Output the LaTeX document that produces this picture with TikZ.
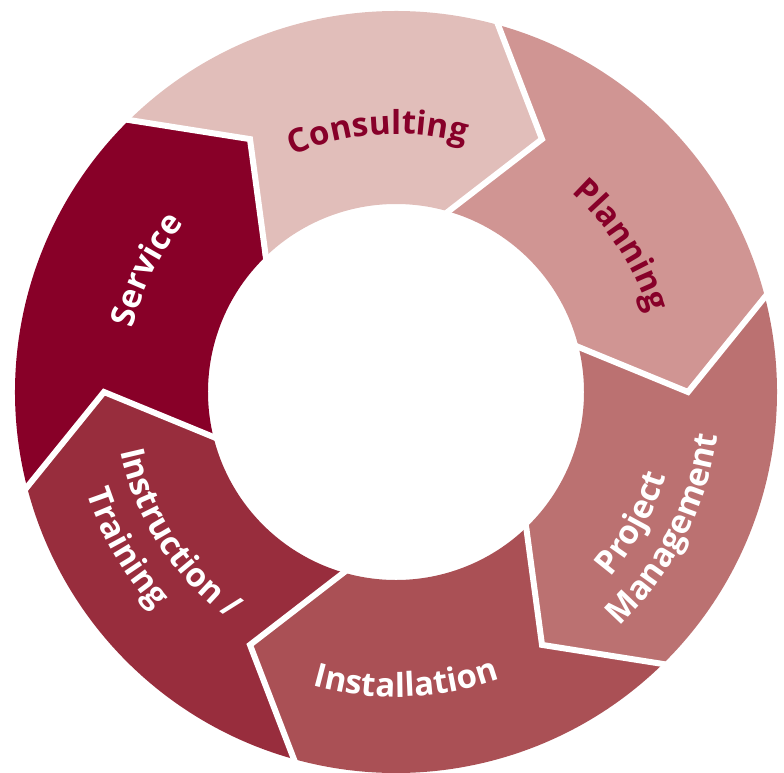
\documentclass[tikz,border=0pt]{standalone}
\usepackage{fontspec}
\setmainfont{Open Sans}
\usetikzlibrary{decorations.text}
\definecolor{consultcol}{HTML}{E1BEBA}
\definecolor{plancol}{HTML}{D09593}
\definecolor{projcol}{HTML}{BB7171}
\definecolor{installcol}{HTML}{AA5055}
\definecolor{instructcol}{HTML}{982D3D}
\definecolor{servicecol}{HTML}{880028}
\definecolor{darktext}{HTML}{870029}
\newcommand\phasefont{\fontsize{33}{36}\selectfont\bfseries}
\begin{document}
\begin{tikzpicture}[x=1pt, y=1pt,
    gap/.style={white, line width=6pt, line join=miter},
    phase/.style={decorate, decoration={text along path, text align=center, text={|\phasefont|#1}}},
    darkphase/.style={phase={#1}, decoration={text color=darktext}},
    lightphase/.style={phase={#1}, decoration={text color=white}}]
\useasboundingbox (-396,-380) rectangle (388,392);
% ring segments, outer radius 381, inner 188, chevron tip at 292
\fill[consultcol] (135:381) arc[start angle=135, end angle=75, radius=381] -- (60:292) -- (75:188) arc[start angle=75, end angle=135, radius=188] -- (120:292) -- cycle;
\fill[plancol] (75:381) arc[start angle=75, end angle=15, radius=381] -- (0:292) -- (15:188) arc[start angle=15, end angle=75, radius=188] -- (60:292) -- cycle;
\fill[projcol] (15:381) arc[start angle=15, end angle=-45, radius=381] -- (-60:292) -- (-45:188) arc[start angle=-45, end angle=15, radius=188] -- (0:292) -- cycle;
\fill[installcol] (-45:381) arc[start angle=-45, end angle=-105, radius=381] -- (-120:292) -- (-105:188) arc[start angle=-105, end angle=-45, radius=188] -- (-60:292) -- cycle;
\fill[instructcol] (-105:381) arc[start angle=-105, end angle=-165, radius=381] -- (-180:292) -- (-165:188) arc[start angle=-165, end angle=-105, radius=188] -- (-120:292) -- cycle;
\fill[servicecol] (-165:381) arc[start angle=-165, end angle=-225, radius=381] -- (-240:292) -- (-225:188) arc[start angle=-225, end angle=-165, radius=188] -- (-180:292) -- cycle;

% white gaps between the segments
\draw[gap] (75:183) -- (60:292) -- (75:386);
\draw[gap] (15:183) -- (0:292) -- (15:386);
\draw[gap] (-45:183) -- (-60:292) -- (-45:386);
\draw[gap] (-105:183) -- (-120:292) -- (-105:386);
\draw[gap] (-165:183) -- (-180:292) -- (-165:386);
\draw[gap] (135:183) -- (120:292) -- (135:386);

% labels, bent along the ring
\path[darkphase=Consulting] (134:258) arc[start angle=134, end angle=54, radius=258];
\path[darkphase=Planning] (73:265) arc[start angle=73, end angle=-7, radius=265];
\path[lightphase=Project] (-69:283) arc[start angle=-69, end angle=11, radius=283];
\path[lightphase=Management] (-67:324) arc[start angle=-67, end angle=13, radius=324];
\path[lightphase=Installation] (-128:305) arc[start angle=-128, end angle=-48, radius=305];
\path[lightphase={Instruction /}] (-187:282) arc[start angle=-187, end angle=-107, radius=282];
\path[lightphase=Training] (-190:325) arc[start angle=-190, end angle=-110, radius=325];
\path[lightphase=Service] (194:271) arc[start angle=194, end angle=114, radius=271];
\end{tikzpicture}
\end{document}
